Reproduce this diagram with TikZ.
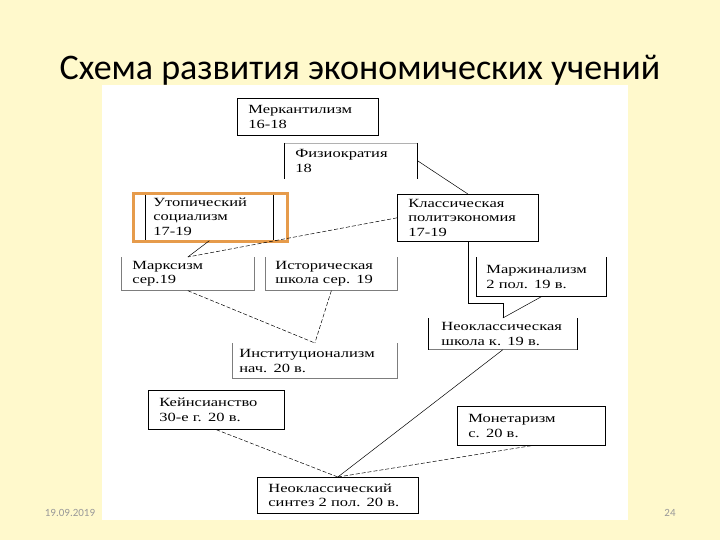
\documentclass[tikz,border=0pt]{standalone}
\usepackage{fontspec}
\setmainfont{Liberation Serif}
\newfontfamily\titlefont{Carlito}
\newfontfamily\boxfont[FakeStretch=1.32]{Liberation Serif}
\usepackage{xcolor}
\usetikzlibrary{calc}
\definecolor{slidebg}{RGB}{255,249,204}
\definecolor{hiorange}{RGB}{230,155,75}
\definecolor{sidegray}{RGB}{125,125,125}

\begin{document}
\begin{tikzpicture}[
		x=1pt, y=-1pt,
		school/.style={
			anchor=north west,
			inner xsep=11pt,
			inner ysep=0pt,
			align=left,
			font=\boxfont\fontsize{12.5}{14.5}\selectfont,
			line width=0.7pt
		},
		framed/.style={
			school,
			draw
		},
		link/.style={line width=0.5pt},
		dashlink/.style={line width=0.5pt, dash pattern=on 4pt off 2pt}
		]
		
		% Slide
		\fill[slidebg] (0,0) rectangle (720,540);
		\fill[white] (102,85) rectangle (628,520);
		\node[font=\titlefont\fontsize{36}{40}\selectfont, anchor=base] (title) at (360,80) {Схема развития экономических учений};
		\node[font=\titlefont\fontsize{11}{12}\selectfont, text=gray!80] (date) at (70,513) {19.09.2019};
		\node[font=\titlefont\fontsize{11}{12}\selectfont, text=gray!80] (page) at (670,513) {24};
		
		% Schools
		\node[framed, minimum height=37pt, text width=119pt] (merc) at (237,98) {Меркантилизм\\16-18};
		\node[school, minimum height=35pt, text width=111pt] (phys) at (284,143) {Физиократия\\18};
		\node[school, inner xsep=8pt, minimum height=48pt, text width=112pt] (utop) at (145,192) {Утопический\\социализм\\17-19};
		\node[framed, minimum height=47pt, text width=119pt] (class) at (397,194) {Классическая\\политэкономия\\17-19};
		\node[school, minimum height=33pt, text width=111pt] (marx) at (121,257) {Марксизм\\сер.19};
		\node[school, inner xsep=10pt, minimum height=33pt, text width=112pt] (hist) at (265,257) {Историческая\\школа сер. 19};
		\node[school, inner xsep=10pt, minimum height=39pt, text width=110pt] (marg) at (476,257) {Маржинализм\\2 пол. 19 в.};
		\node[school, inner xsep=13pt, minimum height=31pt, text width=123pt] (neo) at (428,318) {Неоклассическая\\школа к. 19 в.};
		\node[school, inner xsep=7pt, minimum height=35pt, text width=151pt] (inst) at (232,343) {Институционализм\\нач. 20 в.};
		\node[framed, minimum height=39pt, text width=114pt] (keyn) at (148,390) {Кейнсианство\\30-е г. 20 в.};
		\node[framed, minimum height=39pt, text width=126pt] (monet) at (457,406) {Монетаризм\\с. 20 в.};
		\node[framed, minimum height=36pt, text width=139pt] (synth) at (257,477) {Неоклассический\\синтез 2 пол. 20 в.};
		
		% Open frames
		\draw[sidegray!60, line width=0.5pt] (phys.north west) -- (phys.north east);
		\draw[line width=0.7pt] (phys.north west) -- (phys.south west) (phys.north east) -- (phys.south east);
		\draw[line width=0.7pt] (utop.north west) -- (utop.south west) (utop.north east) -- (utop.south east);
		\node[draw=hiorange, line width=3pt, inner sep=0pt, minimum width=154pt, minimum height=47pt, anchor=north west] (hilite) at (131.5,192.5) {};
		\draw[sidegray, line width=1pt] (marx.north west) -- (marx.south west) -- (marx.south east) -- (marx.north east);
		\draw[sidegray, line width=1pt] (hist.north west) -- (hist.south west) -- (hist.south east) -- (hist.north east);
		\draw[line width=0.7pt] (marg.north west) -- (marg.south west) -- (marg.south east) -- (marg.north east);
		\draw[sidegray, line width=0.7pt] (neo.south west) -- (neo.south east);
		\draw[line width=0.7pt] (neo.north west) -- (neo.south west) (neo.north east) -- (neo.south east);
		\draw[sidegray, line width=1pt] (inst.north west) -- (inst.south west) -- (inst.south east) -- (inst.north east);
		
		% Connections
		\draw[link] (phys.east) -- (class.north);
		\draw[dashlink] (class.west) -- (marx.north);
		\draw[link] (utop.south) -- (marx.north);
		\draw[dashlink] (marx.south) -- (inst.north);
		\draw[dashlink] (hist.south) -- (inst.north);
		\draw[link] (class.south) -- ++(0,62) -| (neo.north);
		\draw[link] (marg.south) -- (neo.north);
		\draw[link] (neo.south) -- (synth.north);
		\draw[dashlink] (keyn.south) -- (synth.north);
		\draw[dashlink] (monet.south) -- (synth.north);
		
	\end{tikzpicture}
\end{document}
